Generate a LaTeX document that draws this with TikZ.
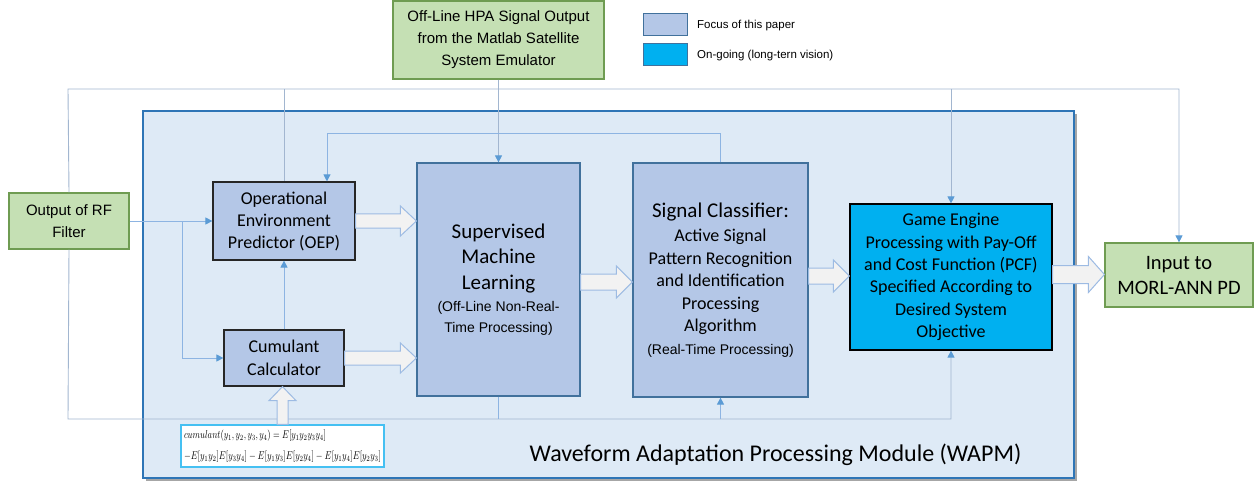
\documentclass[tikz,border=0pt]{standalone}
\usepackage{fontspec}
\usepackage{graphicx}
\setmainfont{Carlito}
\newfontfamily\arial{Liberation Sans}
\usetikzlibrary{arrows.meta,calc}
\definecolor{wapmfill}{HTML}{DEEAF6}
\definecolor{wapmline}{HTML}{2E75B6}
\definecolor{focus}{HTML}{B4C7E7}
\definecolor{focusline}{HTML}{41719C}
\definecolor{cyanbox}{HTML}{00B0F0}
\definecolor{greenfill}{HTML}{C5E0B4}
\definecolor{greenline}{HTML}{6F9C52}
\definecolor{wire}{HTML}{8DB4E2}
\definecolor{outwire}{HTML}{A2B6D0}
\definecolor{tipc}{HTML}{5B9BD5}
\definecolor{blkfill}{HTML}{F2F2F2}
\definecolor{blkline}{HTML}{9DBBE3}
\definecolor{formline}{HTML}{45C0F2}
\definecolor{darkline}{HTML}{262626}
\newcommand{\sm}[1]{{\arial\fontsize{14}{21}\selectfont #1}}
\newcommand{\hblk}[4]{%
  \path[blk] let \p1=(#1), \p2=(#2) in
    (\x1,\y1+#3) -- (\x2-16pt,\y1+#3) -- (\x2-16pt,\y1+#4) -- (\x2,\y1)
    -- (\x2-16pt,\y1-#4) -- (\x2-16pt,\y1-#3) -- (\x1,\y1-#3) -- cycle;}
\newcommand{\vblk}[4]{%
  \path[blk] let \p1=(#1), \p2=(#2) in
    (\x1-#3,\y1) -- (\x1-#3,\y2-14pt) -- (\x1-#4,\y2-14pt) -- (\x1,\y2)
    -- (\x1+#4,\y2-14pt) -- (\x1+#3,\y2-14pt) -- (\x1+#3,\y1) -- cycle;}
\begin{document}
\begin{tikzpicture}[x=1pt,y=-1pt,
  greenbox/.style={draw=greenline, fill=greenfill, line width=1.2pt, inner sep=0pt, align=center},
  focusbox/.style={draw=focusline, fill=focus, line width=1.2pt, inner sep=0pt, align=center},
  darkbox/.style={draw=darkline, fill=focus, line width=1.2pt, inner sep=0pt, align=center},
  cyanb/.style={draw=black, fill=cyanbox, line width=1.2pt, inner sep=0pt, align=center},
  wirel/.style={draw=wire, line width=0.9pt},
  outl/.style={draw=outwire, line width=0.9pt},
  tip/.style={-{Triangle[width=7pt,length=7pt,color=tipc]}},
  blk/.style={draw=blkline, fill=blkfill, line width=1pt, line join=miter},
  legtext/.style={anchor=west, inner sep=0pt, font=\arial\fontsize{11.5}{14}\selectfont}
]
\useasboundingbox (0,0) rectangle (1255,481);
% WAPM module
\fill[black!35] (146,114) rectangle (1077,481);
\node[draw=wapmline, fill=wapmfill, line width=1.5pt, minimum width=931, minimum height=367, inner sep=0pt] (wapm) at (608.5,294.5) {};
\node[font=\fontsize{24}{28}\selectfont, inner sep=0pt] (wapmlabel) at (775.5,455) {Waveform Adaptation Processing Module (WAPM)};
% legend
\node[draw=focusline, fill=focus, line width=1pt, minimum width=44, minimum height=22, inner sep=0pt] (leg1) at (665,25) {};
\node[legtext] (leg1t) at (697,26) {Focus of this paper};
\node[draw=focusline, fill=cyanbox, line width=1pt, minimum width=44, minimum height=22, inner sep=0pt] (leg2) at (665,55) {};
\node[legtext] (leg2t) at (697,56) {On-going (long-tern vision)};
% boxes
\node[greenbox, minimum width=211, minimum height=78, font=\arial\fontsize{15}{22}\selectfont] (top) at (498.5,40) {Off-Line HPA Signal Output\\from the Matlab Satellite\\System Emulator};
\node[greenbox, minimum width=120, minimum height=56, font=\arial\fontsize{15}{21.5}\selectfont] (rf) at (69,221) {Output of RF\\Filter};
\node[greenbox, minimum width=148, minimum height=64, font=\fontsize{20.5}{25}\selectfont] (inp) at (1179,275) {Input to\\MORL-ANN PD};
\node[darkbox, minimum width=142, minimum height=78, font=\fontsize{18}{22}\selectfont] (oep) at (284,221) {Operational\\Environment\\Predictor (OEP)};
\node[darkbox, minimum width=120, minimum height=56, font=\fontsize{18}{23}\selectfont] (cum) at (284,358) {Cumulant\\Calculator};
\node[focusbox, minimum width=163, minimum height=233, font=\fontsize{21}{25.5}\selectfont] (sml) at (498.5,279.5) {Supervised\\Machine\\Learning\\[-3.5pt]\sm{(Off-Line Non-Real-}\\[-4.5pt]\sm{Time Processing)}};
\node[focusbox, minimum width=175, minimum height=234, font=\fontsize{18}{22.5}\selectfont] (sc) at (720.5,280) {{\fontsize{21}{24}\selectfont Signal Classifier:}\\[1.5pt]Active Signal\\Pattern Recognition\\and Identification\\Processing\\Algorithm\\\sm{(Real-Time Processing)}};
\node[cyanb, minimum width=202, minimum height=146, font=\fontsize{18}{22.4}\selectfont] (ge) at (951,277) {Game Engine\\Processing with Pay-Off\\and Cost Function (PCF)\\Specified According to\\Desired System\\Objective};
\node[draw=formline, fill=white, line width=1.2pt, minimum width=203, minimum height=42, inner xsep=3pt, inner ysep=0pt, align=left, font=\fontsize{10}{21}\selectfont] (formula) at (282.5,446) {\resizebox{142pt}{8.5pt}{$cumulant(y_1,y_2,y_3,y_4)=E[y_1y_2y_3y_4]$}\\\resizebox{197pt}{8.5pt}{$-E[y_1y_2]E[y_3y_4]-E[y_1y_3]E[y_2y_4]-E[y_1y_4]E[y_2y_3]$}};
% helper coordinates
\coordinate (tl) at (68,89);
\coordinate (bl) at (68,419);
\coordinate (fb) at (0,133);
\coordinate (br) at (182,221);
% outer loop
\draw[outl, tip] (rf.north) -- (tl) -| (inp.north);
\draw[outl, tip] (ge.north |- tl) -- (ge.north);
\draw[outl] (oep.north |- tl) -- (oep.north);
\draw[outl, tip] (rf.south) -- (bl) -| (ge.south);
\draw[wirel, tip] (sc.south |- bl) -- (sc.south);
\draw[wirel] (sml.south) -- (sml.south |- bl);
% top input
\draw[outl, tip] (top.south) -- (sml.north);
% feedback from classifier to OEP
\draw[wirel, tip] (sc.north) -- (sc.north |- fb) -| ($(oep.north west)!0.8!(oep.north east)$);
% RF filter to OEP and cumulant
\draw[wirel, tip] (rf.east) -- (oep.west);
\draw[wirel, tip] (br) |- (cum.west);
\draw[wirel, tip] (cum.north) -- (oep.south);
% block arrows
\hblk{oep.east}{sml.west}{7pt}{15pt}
\hblk{cum.east}{sml.west}{7pt}{15pt}
\hblk{$(sml.east)+(0,2.5)$}{sc.west}{8pt}{16pt}
\hblk{$(sc.east)+(0,-4)$}{ge.west}{8pt}{16pt}
\hblk{$(ge.east)+(0,-2.5)$}{inp.west}{9pt}{18pt}
\vblk{formula.north}{cum.south}{5.5pt}{13.5pt}
\end{tikzpicture}
\end{document}
